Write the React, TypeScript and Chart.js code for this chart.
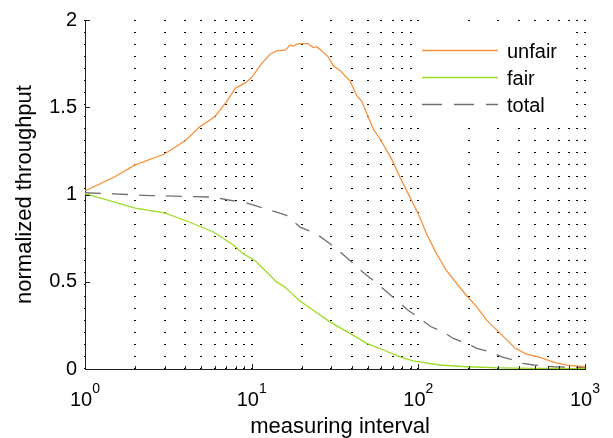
import { useEffect, useRef } from "react";
import { Chart, registerables } from "chart.js";

Chart.register(...registerables);

const FONT = '"Liberation Sans", Arial, Helvetica, sans-serif';

// unfair share of throughput vs. measuring interval
const unfairX = [1, 1.5, 2, 3, 4, 4.9, 6, 7, 8, 9.1, 10, 11.4, 12.9, 14.1, 16, 17, 17.8, 19, 21.8, 23.4, 24.5, 25.7, 28.8, 30.9, 34, 38.9, 42.7, 45.6, 50.1, 53.7, 58.9, 69.1, 77.6, 89.1, 99.8, 102, 112, 128.5, 147, 170, 195, 224, 257, 310, 380, 445, 537, 646, 776, 1000];
const unfairY = [1.02, 1.1, 1.17, 1.232, 1.309, 1.389, 1.446, 1.527, 1.61, 1.638, 1.67, 1.747, 1.804, 1.823, 1.829, 1.857, 1.851, 1.865, 1.865, 1.842, 1.847, 1.832, 1.789, 1.737, 1.709, 1.651, 1.566, 1.537, 1.442, 1.375, 1.318, 1.204, 1.099, 0.985, 0.89, 0.87, 0.775, 0.661, 0.566, 0.49, 0.42, 0.356, 0.28, 0.204, 0.12, 0.085, 0.066, 0.04, 0.022, 0.013];

// fair share
const fairX = [1, 2, 3, 4, 5.9, 7.8, 8.9, 10, 10.7, 12.3, 14.1, 15.8, 17, 19.5, 23.4, 29.5, 38.9, 49, 61.7, 77.6, 93, 99.8, 134, 195, 310, 490, 1000];
const fairY = [1.005, 0.922, 0.895, 0.851, 0.785, 0.709, 0.661, 0.632, 0.613, 0.556, 0.499, 0.47, 0.442, 0.39, 0.337, 0.27, 0.204, 0.147, 0.109, 0.07, 0.046, 0.042, 0.023, 0.013, 0.007, 0.004, 0.002];

// total
const totalX = [1, 1.48, 2.45, 4.07, 5.9, 7.1, 9.3, 14.1, 16.2, 19.5, 24.4, 29.5, 34, 39.8, 46.3, 55, 63, 75.9, 86.8, 102, 119, 141, 162, 195, 224, 267, 317, 372, 424, 490, 646, 776, 1000];
const totalY = [1.01, 1.004, 0.994, 0.989, 0.985, 0.97, 0.952, 0.899, 0.88, 0.813, 0.775, 0.718, 0.67, 0.613, 0.556, 0.499, 0.451, 0.385, 0.337, 0.29, 0.242, 0.213, 0.175, 0.147, 0.118, 0.099, 0.07, 0.051, 0.032, 0.023, 0.013, 0.01, 0.007];

const seriesLabels = ["unfair", "fair", "total"];
const yTickValues = [0, 0.5, 1, 1.5, 2];
const decadeExponents = [0, 1, 2, 3];
const xTitle = "measuring interval";
const yTitle = "normalized throughput";

const COLORS = ["#F5923E", "#9CDC24", "#707070"];
const TOTAL_DASH = [16, 11];

const pairs = (xs: number[], ys: number[]) => xs.map((x, i) => ({ x, y: ys[i] }));

// log grid positions 1..9, 10..90, 100..1000
const logGridValues = (() => {
  const out: number[] = [];
  for (let e = 0; e < 3; e++) for (let m = 1; m <= 9; m++) out.push(m * 10 ** e);
  out.push(1000);
  return out;
})();

const axisDecor = {
  id: "axisDecor",
  afterDraw(chart: any) {
    const { ctx, chartArea } = chart;
    const { left, right, top, bottom } = chartArea;
    const xs = chart.scales.x;
    const ys = chart.scales.y;
    ctx.save();
    ctx.strokeStyle = "#222";
    ctx.lineWidth = 1;
    ctx.setLineDash([]);
    // inward major ticks on the y axis
    for (const v of yTickValues) {
      const py = Math.round(ys.getPixelForValue(v)) + 0.5;
      ctx.beginPath();
      ctx.moveTo(left, py);
      ctx.lineTo(left + 5, py);
      ctx.stroke();
    }
    // inward ticks on the log x axis
    for (const v of logGridValues) {
      const px = Math.round(xs.getPixelForValue(v)) + 0.5;
      const major = Math.abs(Math.log10(v) - Math.round(Math.log10(v))) < 1e-9;
      ctx.beginPath();
      ctx.moveTo(px, bottom);
      ctx.lineTo(px, bottom - (major ? 5 : 3));
      ctx.stroke();
    }
    // decade labels 10^n
    ctx.fillStyle = "#000";
    ctx.textAlign = "left";
    ctx.textBaseline = "alphabetic";
    for (const e of decadeExponents) {
      const px = xs.getPixelForValue(10 ** e);
      ctx.font = `20px ${FONT}`;
      const baseW = ctx.measureText("10").width;
      ctx.font = `14px ${FONT}`;
      const expW = ctx.measureText(String(e)).width;
      const x0 = px - (baseW + expW) / 2;
      ctx.font = `20px ${FONT}`;
      ctx.fillText("10", x0, bottom + 37);
      ctx.font = `14px ${FONT}`;
      ctx.fillText(String(e), x0 + baseW, bottom + 24);
    }
    // x axis title
    ctx.font = `22px ${FONT}`;
    ctx.textAlign = "center";
    ctx.fillText(xTitle, (left + right) / 2 + 5, bottom + 64);
    ctx.textAlign = "left";
    // legend
    ctx.fillStyle = "#fff";
    ctx.fillRect(right - 169, top + 8, 157, 93);
    const datasets = chart.data.datasets;
    datasets.forEach((ds: any, i: number) => {
      const y = top + 30.5 + i * 27;
      ctx.strokeStyle = ds.borderColor;
      ctx.lineWidth = 1.3;
      ctx.setLineDash(i === 2 ? [20, 12] : []);
      ctx.beginPath();
      ctx.moveTo(right - 163, y);
      ctx.lineTo(right - 87, y);
      ctx.stroke();
      ctx.setLineDash([]);
      ctx.fillStyle = "#000";
      ctx.font = `20px ${FONT}`;
      ctx.fillText(ds.label, right - 78, y + 7);
    });
    ctx.restore();
  },
};

export default function App() {
  const canvasRef = useRef<HTMLCanvasElement | null>(null);

  useEffect(() => {
    document.body.style.margin = "0";
    const canvas = canvasRef.current;
    if (!canvas) return;
    const chart = new Chart(canvas, {
      type: "line",
      data: {
        datasets: [
          { label: seriesLabels[0], data: pairs(unfairX, unfairY), borderColor: COLORS[0], borderWidth: 1.3, pointRadius: 0, tension: 0, fill: false },
          { label: seriesLabels[1], data: pairs(fairX, fairY), borderColor: COLORS[1], borderWidth: 1.3, pointRadius: 0, tension: 0, fill: false },
          { label: seriesLabels[2], data: pairs(totalX, totalY), borderColor: COLORS[2], borderWidth: 1.3, borderDash: TOTAL_DASH, pointRadius: 0, tension: 0, fill: false },
        ],
      },
      options: {
        responsive: false,
        animation: false,
        devicePixelRatio: 1,
        layout: { padding: { top: 19, right: 28, left: 0, bottom: 0 } },
        plugins: { legend: { display: false }, tooltip: { enabled: false } },
        scales: {
          x: {
            type: "logarithmic",
            min: 1,
            max: 1000,
            afterBuildTicks: (s: any) => {
              s.ticks = logGridValues.map((v) => ({ value: v }));
            },
            afterFit: (s: any) => {
              s.height = 69;
            },
            ticks: { display: false },
            grid: { color: "#000", lineWidth: 2, drawTicks: false },
            border: { display: true, color: "#222", width: 1, dash: [1, 11] },
            title: { display: false },
          },
          y: {
            type: "linear",
            min: 0,
            max: 2,
            afterBuildTicks: (s: any) => {
              s.ticks = yTickValues.map((v) => ({ value: v }));
            },
            afterFit: (s: any) => {
              s.width = 85;
            },
            ticks: {
              color: "#000",
              font: { family: FONT, size: 20 },
              padding: 8,
              callback: (v: any) => String(v),
            },
            grid: { display: false, drawTicks: false },
            border: { display: true, color: "#222", width: 1 },
            title: {
              display: true,
              text: yTitle,
              color: "#000",
              font: { family: FONT, size: 22 },
              padding: { top: 12, bottom: 0 },
            },
          },
        },
      },
      plugins: [axisDecor],
    } as any);
    return () => chart.destroy();
  }, []);

  return (
    <div style={{ position: "fixed", left: 0, top: 0, width: 613, height: 438, background: "#fff" }}>
      <canvas ref={canvasRef} width={613} height={438} />
    </div>
  );
}
